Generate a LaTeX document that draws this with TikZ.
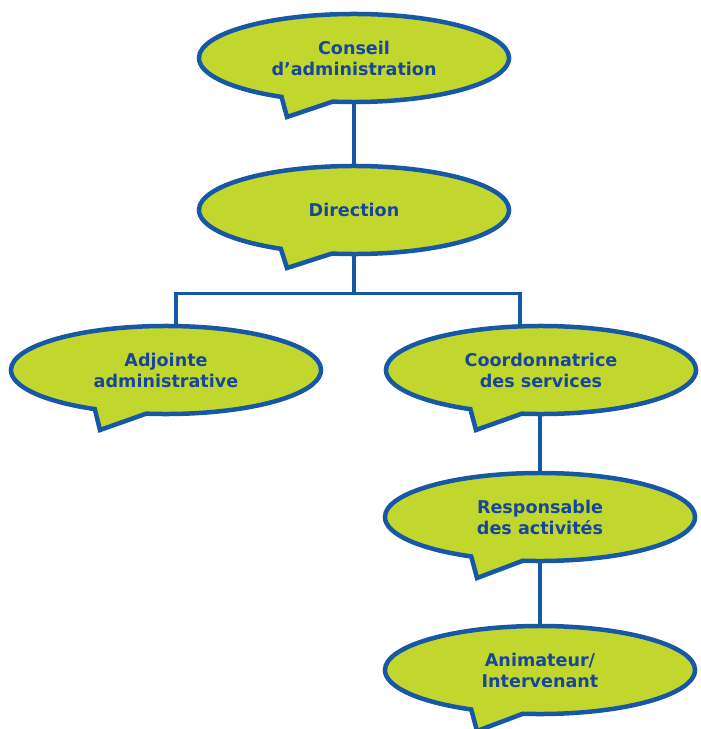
\documentclass[tikz,border=0pt]{standalone}
\usepackage{fontspec}
\usepackage{tikz}
\usetikzlibrary{shapes.callouts}
\newfontfamily\bullefont{DejaVu Sans}
\definecolor{vertlime}{RGB}{194,215,46}
\definecolor{bordbleu}{RGB}{22,88,166}
\definecolor{textebleu}{RGB}{24,70,155}

\begin{document}
\begin{tikzpicture}[x=0.025cm,y=-0.025cm,
bulle/.style={ellipse callout,draw=bordbleu,fill=vertlime,line width=3.2pt,minimum width=7.75cm,minimum height=2.2cm,callout absolute pointer={#1},callout pointer arc=20,text=textebleu,align=center,font={\bullefont\bfseries\fontsize{12.5}{15}\selectfont}},
lien/.style={draw=bordbleu,line width=2.2pt}]
\useasboundingbox (0,0) rectangle (701,729);
\node[bulle={(287,117)}] (conseil) at (354,58) {Conseil\\d’administration};
\node[bulle={(287,268)}] (direction) at (354,210) {Direction};
\node[bulle={(100,430)}] (adjointe) at (166,370) {Adjointe\\administrative};
\node[bulle={(476,430)}] (coord) at (541,370) {Coordonnatrice\\des services};
\node[bulle={(477,578)}] (resp) at (540,517) {Responsable\\des activités};
\node[bulle={(477,731)}] (anim) at (540,670) {Animateur/\\Intervenant};
\draw[lien] (conseil.south) -- (direction.north);
\draw[lien] (direction.south) -- ++(0,37) coordinate (fourche);
\draw[lien] ([xshift=0.25cm]adjointe.north) |- (fourche) -| ([xshift=-0.525cm]coord.north);
\draw[lien] (resp.north |- coord.south) -- (resp.north);
\draw[lien] (resp.south) -- (anim.north);
\end{tikzpicture}
\end{document}
